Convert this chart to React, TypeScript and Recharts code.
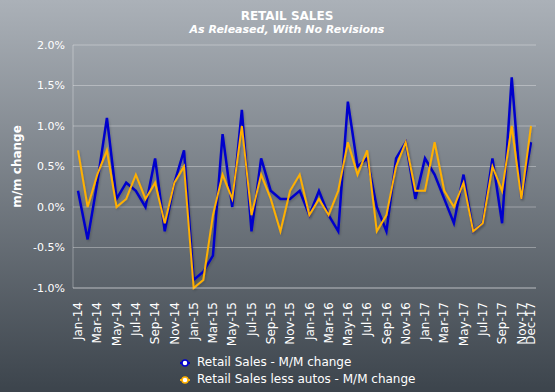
import { LineChart, Line, XAxis, YAxis, CartesianGrid } from 'recharts'

const months = [
  'Jan-14', 'Feb-14', 'Mar-14', 'Apr-14', 'May-14', 'Jun-14', 'Jul-14', 'Aug-14', 'Sep-14', 'Oct-14', 'Nov-14', 'Dec-14',
  'Jan-15', 'Feb-15', 'Mar-15', 'Apr-15', 'May-15', 'Jun-15', 'Jul-15', 'Aug-15', 'Sep-15', 'Oct-15', 'Nov-15', 'Dec-15',
  'Jan-16', 'Feb-16', 'Mar-16', 'Apr-16', 'May-16', 'Jun-16', 'Jul-16', 'Aug-16', 'Sep-16', 'Oct-16', 'Nov-16', 'Dec-16',
  'Jan-17', 'Feb-17', 'Mar-17', 'Apr-17', 'May-17', 'Jun-17', 'Jul-17', 'Aug-17', 'Sep-17', 'Oct-17', 'Nov-17', 'Dec-17'
]

const retailSales = [
  0.2, -0.4, 0.3, 1.1, 0.1, 0.3, 0.2, 0.0, 0.6, -0.3, 0.3, 0.7,
  -0.9, -0.8, -0.6, 0.9, 0.0, 1.2, -0.3, 0.6, 0.2, 0.1, 0.1, 0.2,
  -0.1, 0.2, -0.1, -0.3, 1.3, 0.5, 0.6, 0.0, -0.3, 0.6, 0.8, 0.1,
  0.6, 0.4, 0.1, -0.2, 0.4, -0.3, -0.2, 0.6, -0.2, 1.6, 0.1, 0.8
]

const lessAutos = [
  0.7, 0.0, 0.4, 0.7, 0.0, 0.1, 0.4, 0.1, 0.3, -0.2, 0.3, 0.5,
  -1.0, -0.9, -0.1, 0.4, 0.1, 1.0, -0.1, 0.4, 0.1, -0.3, 0.2, 0.4,
  -0.1, 0.1, -0.1, 0.2, 0.8, 0.4, 0.7, -0.3, -0.1, 0.5, 0.8, 0.2,
  0.2, 0.8, 0.2, 0.0, 0.3, -0.3, -0.2, 0.5, 0.2, 1.0, 0.1, 1.0
]

const xTicks = [
  'Jan-14', 'Mar-14', 'May-14', 'Jul-14', 'Sep-14', 'Nov-14',
  'Jan-15', 'Mar-15', 'May-15', 'Jul-15', 'Sep-15', 'Nov-15',
  'Jan-16', 'Mar-16', 'May-16', 'Jul-16', 'Sep-16', 'Nov-16',
  'Jan-17', 'Mar-17', 'May-17', 'Jul-17', 'Sep-17', 'Nov-17', 'Dec-17'
]

const yTicks = [-1, -0.5, 0, 0.5, 1, 1.5, 2]

const seriesNames = ['Retail Sales - M/M change', 'Retail Sales less autos - M/M change']

const BLUE = '#0000cc'
const ORANGE = '#ffb000'
const GRID = 'rgba(255,255,255,0.32)'
const FONT = "'DejaVu Sans', Tahoma, sans-serif"

const data = months.map((m, i) => ({
  month: m,
  retail: retailSales[i],
  exAutos: lessAutos[i]
}))

const MonthTick = ({ x, y, payload }: any) => (
  <text
    x={x}
    y={y + 6}
    dy="0.35em"
    transform={`rotate(-90, ${x}, ${y + 6})`}
    textAnchor="end"
    fill="#fff"
    fontSize={12}
    fontFamily={FONT}
  >
    {payload.value}
  </text>
)

export default function App() {
  return (
    <div
      style={{
        position: 'absolute',
        left: 0,
        top: 0,
        width: 555,
        height: 392,
        background: 'linear-gradient(#abb1b8, #3c444c)',
        fontFamily: FONT,
        color: '#fff'
      }}
    >
      <div style={{ position: 'absolute', left: 177, width: 220, top: 9, textAlign: 'center', fontWeight: 'bold', lineHeight: '14px' }}>
        <div style={{ fontSize: 12 }}>RETAIL SALES</div>
        <div style={{ fontSize: 11, fontStyle: 'italic', whiteSpace: 'nowrap' }}>As Released, With No Revisions</div>
      </div>
      <LineChart width={555} height={392} data={data} margin={{ top: 45, right: 19, left: 0, bottom: 0 }}>
        <defs>
          <filter id="lineShadow" x="-5%" y="-5%" width="110%" height="110%">
            <feDropShadow dx="1" dy="1.5" stdDeviation="0.8" floodColor="#000" floodOpacity="0.18" />
          </filter>
        </defs>
        <CartesianGrid vertical={false} stroke={GRID} />
        <XAxis
          dataKey="month"
          ticks={xTicks}
          interval={0}
          padding={{ left: 5, right: 5 }}
          tick={<MonthTick />}
          tickLine={false}
          axisLine={{ stroke: GRID }}
          height={104}
        />
        <YAxis
          domain={[-1, 2]}
          ticks={yTicks}
          width={73}
          tickFormatter={(v: number) => `${v.toFixed(1)}%`}
          tick={{ fill: '#fff', fontSize: 11, fontFamily: FONT }}
          tickLine={false}
          axisLine={{ stroke: GRID }}
          label={{
            value: 'm/m change',
            angle: -90,
            position: 'insideLeft',
            offset: 17,
            style: { textAnchor: 'middle', fill: '#fff', fontWeight: 'bold', fontSize: 12, fontFamily: FONT }
          }}
        />
        <YAxis yAxisId="right" orientation="right" width={0} tick={false} tickLine={false} axisLine={{ stroke: GRID }} />
        <Line type="linear" dataKey="retail" stroke={BLUE} strokeWidth={2.5} dot={false} filter="url(#lineShadow)" isAnimationActive={false} />
        <Line type="linear" dataKey="exAutos" stroke={ORANGE} strokeWidth={2} dot={false} filter="url(#lineShadow)" isAnimationActive={false} />
      </LineChart>
      <div style={{ position: 'absolute', left: 180, top: 354, fontSize: 12, lineHeight: '17px' }}>
        {seriesNames.map((name, i) => (
          <div key={name} style={{ display: 'flex', alignItems: 'center' }}>
            <svg width={14} height={10} style={{ marginRight: 3 }}>
              <line x1={0} y1={5} x2={10} y2={5} stroke={i === 0 ? BLUE : ORANGE} strokeWidth={2} />
              <circle cx={5} cy={5} r={3} fill="#fff" stroke={i === 0 ? BLUE : ORANGE} strokeWidth={1.5} />
            </svg>
            {name}
          </div>
        ))}
      </div>
    </div>
  )
}
